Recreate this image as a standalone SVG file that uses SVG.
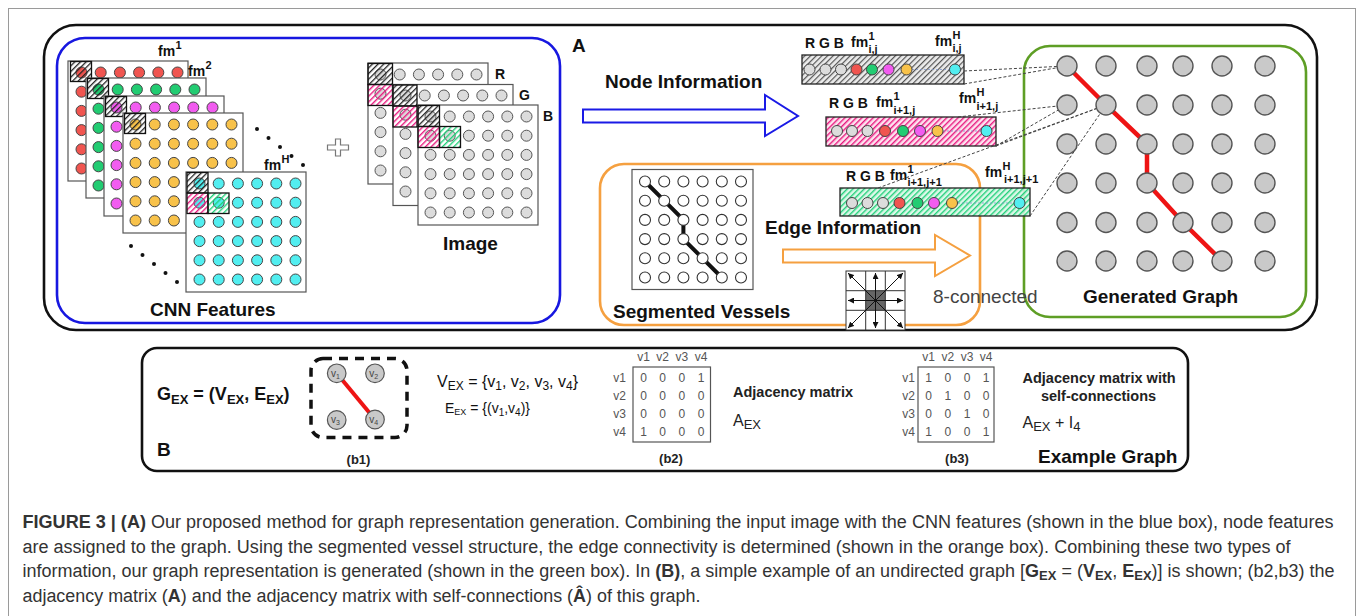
<svg xmlns="http://www.w3.org/2000/svg" width="1360" height="616" viewBox="0 0 1360 616">
  <style>
    text { font-family: "Liberation Sans", Arial, sans-serif; }
    .title { font-size: 19px; font-weight: bold; fill: #111; }
    .fm { font-size: 14px; font-weight: bold; fill: #111; }
    .sup { font-size: 11px; font-weight: bold; fill: #111; }
    .mat { font-size: 12px; fill: #555; }
    .cap { font-size: 18px; fill: #333; }
    .map { fill: #fff; stroke: #555; stroke-width: 1.2; }
    .hk { fill: url(#hatchK); stroke: #111; stroke-width: 1.3; }
    .hm { fill: url(#hatchM); stroke: #111; stroke-width: 1.3; }
    .hg { fill: url(#hatchG); stroke: #111; stroke-width: 1.3; }
    .node { fill: #c9c9c9; stroke: #555; stroke-width: 1.4; }
    .dash { stroke: #444; stroke-width: 1; stroke-dasharray: 3 2; fill: none; }
    .dots { stroke: #7f95c8; stroke-width: 0.8; stroke-dasharray: 2 2; fill: none; }
  </style>
  <defs>
    <pattern id="hatchK" width="4" height="4" patternUnits="userSpaceOnUse" patternTransform="rotate(45)">
      <rect width="1.3" height="4" fill="#222"/>
    </pattern>
    <pattern id="hatchM" width="4" height="4" patternUnits="userSpaceOnUse" patternTransform="rotate(45)">
      <rect width="1.4" height="4" fill="#e8197f"/>
    </pattern>
    <pattern id="hatchG" width="4" height="4" patternUnits="userSpaceOnUse" patternTransform="rotate(45)">
      <rect width="1.4" height="4" fill="#22d07a"/>
    </pattern>
    <pattern id="hatchBar" width="4" height="4" patternUnits="userSpaceOnUse" patternTransform="rotate(45)">
      <rect width="1.2" height="4" fill="#555"/>
    </pattern>
    <marker id="ah" viewBox="0 0 6 6" refX="6" refY="3" markerWidth="6" markerHeight="6" orient="auto">
      <path d="M0,0 L6,3 L0,6 z" fill="#111"/>
    </marker>
    <!-- 6x6 grid of feature-map dots, pitch 19.2 -->
    <g id="g6">
      <circle cx="0" cy="0" r="5.5"/><circle cx="19.2" cy="0" r="5.5"/><circle cx="38.4" cy="0" r="5.5"/><circle cx="57.6" cy="0" r="5.5"/><circle cx="76.8" cy="0" r="5.5"/><circle cx="96" cy="0" r="5.5"/>
      <circle cx="0" cy="19.2" r="5.5"/><circle cx="19.2" cy="19.2" r="5.5"/><circle cx="38.4" cy="19.2" r="5.5"/><circle cx="57.6" cy="19.2" r="5.5"/><circle cx="76.8" cy="19.2" r="5.5"/><circle cx="96" cy="19.2" r="5.5"/>
      <circle cx="0" cy="38.4" r="5.5"/><circle cx="19.2" cy="38.4" r="5.5"/><circle cx="38.4" cy="38.4" r="5.5"/><circle cx="57.6" cy="38.4" r="5.5"/><circle cx="76.8" cy="38.4" r="5.5"/><circle cx="96" cy="38.4" r="5.5"/>
      <circle cx="0" cy="57.6" r="5.5"/><circle cx="19.2" cy="57.6" r="5.5"/><circle cx="38.4" cy="57.6" r="5.5"/><circle cx="57.6" cy="57.6" r="5.5"/><circle cx="76.8" cy="57.6" r="5.5"/><circle cx="96" cy="57.6" r="5.5"/>
      <circle cx="0" cy="76.8" r="5.5"/><circle cx="19.2" cy="76.8" r="5.5"/><circle cx="38.4" cy="76.8" r="5.5"/><circle cx="57.6" cy="76.8" r="5.5"/><circle cx="76.8" cy="76.8" r="5.5"/><circle cx="96" cy="76.8" r="5.5"/>
      <circle cx="0" cy="96" r="5.5"/><circle cx="19.2" cy="96" r="5.5"/><circle cx="38.4" cy="96" r="5.5"/><circle cx="57.6" cy="96" r="5.5"/><circle cx="76.8" cy="96" r="5.5"/><circle cx="96" cy="96" r="5.5"/>
    </g>
  </defs>

  <rect width="1360" height="616" fill="#fff"/>
  <!-- page frame -->
  <rect x="8.5" y="8.5" width="1347" height="640" fill="none" stroke="#9a9a9a" stroke-width="1"/>

  <!-- panel A frame -->
  <g id="panelA">
    <rect x="44" y="25" width="1273" height="305" rx="32" fill="none" stroke="#111" stroke-width="2.6"/>
    <text x="572" y="52" class="title">A</text>
  </g>

  <!-- CNN features (blue box) -->
  <g id="cnn-features">
    <rect x="57" y="38" width="503" height="285" rx="28" fill="none" stroke="#1717e0" stroke-width="2.6"/>
    <g id="fm1">
      <rect class="map" x="68" y="61" width="120" height="120"/>
      <use href="#g6" x="81.5" y="72.5" fill="#f05550" stroke="#444" stroke-width="1"/>
      <rect class="hk" x="70.5" y="61.5" width="21" height="20"/>
    </g>
    <g id="fm2">
      <rect class="map" x="86" y="78" width="120" height="120"/>
      <use href="#g6" x="98.5" y="89.5" fill="#22cc72" stroke="#444" stroke-width="1"/>
      <rect class="hk" x="87.5" y="78.5" width="21" height="20"/>
    </g>
    <g id="fm3">
      <rect class="map" x="104" y="96" width="120" height="120"/>
      <use href="#g6" x="116.5" y="107.5" fill="#f25cf0" stroke="#444" stroke-width="1"/>
      <rect class="hk" x="105.5" y="96.5" width="21" height="20"/>
    </g>
    <g id="fm4">
      <rect class="map" x="123" y="113" width="120" height="120"/>
      <use href="#g6" x="135.5" y="124.5" fill="#f8c24a" stroke="#444" stroke-width="1"/>
      <rect class="hk" x="124.5" y="113.5" width="21" height="20"/>
    </g>
    <g id="fmH">
      <rect class="map" x="186" y="172" width="120" height="120"/>
      <use href="#g6" x="199.5" y="183.5" fill="#52eef0" stroke="#444" stroke-width="1"/>
      <rect class="hk" x="187" y="172.5" width="21" height="20.5"/>
      <rect class="hm" x="187" y="193" width="21" height="20.5"/>
      <rect class="hg" x="208" y="193" width="21" height="20.5"/>
    </g>
    <text x="158" y="56" class="fm">fm</text><text x="175.5" y="49" class="sup">1</text>
    <text x="188" y="76" class="fm">fm</text><text x="205.5" y="69" class="sup">2</text>
    <text x="264" y="170" class="fm">fm</text><text x="281.5" y="163" class="sup">H</text>
    <g fill="#111">
      <circle cx="257" cy="129" r="2"/><circle cx="268.5" cy="138" r="2"/><circle cx="280" cy="147" r="2"/><circle cx="291.5" cy="156" r="2"/><circle cx="303" cy="165" r="2"/>
      <circle cx="131" cy="246" r="2"/><circle cx="142.5" cy="255" r="2"/><circle cx="154" cy="264" r="2"/><circle cx="165.5" cy="273" r="2"/><circle cx="177" cy="282" r="2"/>
    </g>
    <text x="150" y="316" class="title">CNN Features</text>
    <!-- plus sign -->
    <path d="M335.5,139 h5 v6 h8 v5 h-8 v6 h-5 v-6 h-8 v-5 h8 z" fill="#fff" stroke="#777" stroke-width="1.2"/>
  </g>

  <!-- input image planes -->
  <g id="image">
    <g id="planeR">
      <rect class="map" x="368" y="63" width="120" height="121"/>
      <use href="#g6" x="380.5" y="74.5" fill="#dcdcdc" stroke="#555" stroke-width="1"/>
      <rect class="hk" x="368" y="63.5" width="24.5" height="21"/>
      <rect class="hm" x="368" y="84.5" width="24.5" height="21"/>
    </g>
    <g id="planeG">
      <rect class="map" x="393" y="84.5" width="120" height="121"/>
      <use href="#g6" x="405.5" y="95.5" fill="#dcdcdc" stroke="#555" stroke-width="1"/>
      <rect class="hk" x="393" y="85" width="24" height="21"/>
      <rect class="hm" x="393" y="106" width="24" height="21"/>
    </g>
    <g id="planeB">
      <rect class="map" x="418" y="105" width="120" height="120"/>
      <use href="#g6" x="430.5" y="116.5" fill="#dcdcdc" stroke="#555" stroke-width="1"/>
      <rect class="hk" x="418" y="105.5" width="21.5" height="21"/>
      <rect class="hm" x="418" y="126.5" width="21.5" height="21"/>
      <rect class="hg" x="439.5" y="126.5" width="21" height="21"/>
    </g>
    <text x="495" y="79" class="fm">R</text>
    <text x="519" y="100" class="fm">G</text>
    <text x="543" y="121" class="fm">B</text>
    <text x="443" y="250" class="title">Image</text>
  </g>

  <!-- node information arrow -->
  <g id="node-info">
    <polygon points="583,109.5 765,109.5 765,95 798,116 765,136 765,122.5 583,122.5" fill="#fff" stroke="#1a1ae6" stroke-width="2"/>
    <text x="605" y="88" class="title">Node Information</text>
  </g>

  <!-- segmented vessels and edge information (orange box) -->
  <g id="edge-info">
    <rect x="600" y="164" width="380" height="161" rx="24" fill="none" stroke="#f5a040" stroke-width="2.6"/>
    <rect x="632" y="169.5" width="121" height="120" fill="#fff" stroke="#555" stroke-width="1.2"/>
    <polyline points="645,181.5 664.2,200.7 683.4,219.9 683.4,239.1 702.6,258.3 721.8,277.5" fill="none" stroke="#111" stroke-width="4"/>
    <use href="#g6" x="645" y="181.5" fill="#fff" stroke="#333" stroke-width="1.1"/>
    <text x="613" y="318" class="title">Segmented Vessels</text>
    <text x="765" y="234" class="title">Edge Information</text>
    <polygon points="783,249.5 935,249.5 935,235 970,255.5 935,276 935,262.5 783,262.5" fill="#fff" stroke="#f5a040" stroke-width="2"/>
    <!-- 8-neighbourhood icon -->
    <g id="neighbourhood">
      <rect x="846" y="271" width="59" height="59" fill="#fff" stroke="#333" stroke-width="1"/>
      <rect x="865.7" y="290.7" width="19.7" height="19.7" fill="#666"/>
      <path d="M865.7,271 V330 M885.3,271 V330 M846,290.7 H905 M846,310.3 H905" stroke="#333" stroke-width="1"/>
      <g stroke="#111" stroke-width="1" marker-end="url(#ah)">
        <line x1="875.5" y1="300.5" x2="848" y2="273"/>
        <line x1="875.5" y1="300.5" x2="875.5" y2="273"/>
        <line x1="875.5" y1="300.5" x2="903" y2="273"/>
        <line x1="875.5" y1="300.5" x2="848" y2="300.5"/>
        <line x1="875.5" y1="300.5" x2="903" y2="300.5"/>
        <line x1="875.5" y1="300.5" x2="848" y2="328"/>
        <line x1="875.5" y1="300.5" x2="875.5" y2="328"/>
        <line x1="875.5" y1="300.5" x2="903" y2="328"/>
      </g>
    </g>
  </g>

  <!-- generated graph (green box) -->
  <g id="graph">
    <rect x="1024" y="46" width="282" height="271" rx="26" fill="none" stroke="#5e9e25" stroke-width="2.6"/>
    <text x="1083" y="303" class="title">Generated Graph</text>
  </g>

  <!-- node feature vectors -->
  <g id="vec-ij">
    <rect x="802" y="55" width="162" height="29" fill="#ececec"/>
    <rect x="802" y="55" width="162" height="29" fill="url(#hatchBar)" stroke="#222" stroke-width="1.3"/>
    <line class="dots" x1="912" y1="69.5" x2="949" y2="69.5"/>
    <g stroke="#444" stroke-width="1">
      <circle cx="809.5" cy="69.5" r="5.5" fill="#dcdcdc"/><circle cx="825.5" cy="69.5" r="5.5" fill="#dcdcdc"/><circle cx="841" cy="69.5" r="5.5" fill="#dcdcdc"/>
      <circle cx="856.5" cy="69.5" r="5.5" fill="#f05550"/><circle cx="872" cy="69.5" r="5.5" fill="#22cc72"/><circle cx="888.5" cy="69.5" r="5.5" fill="#f25cf0"/>
      <circle cx="906.5" cy="69.5" r="5.5" fill="#f8c24a"/><circle cx="955" cy="69.5" r="5.5" fill="#52eef0"/>
    </g>
    <text x="805" y="48" class="fm">R G B</text>
    <text x="851" y="47" class="fm">fm</text><text x="868.5" y="40" class="sup">1</text><text x="868.5" y="53" class="sup">i,j</text>
    <text x="935" y="46" class="fm">fm</text><text x="952.5" y="39" class="sup">H</text><text x="952.5" y="52" class="sup">i,j</text>
  </g>
  <g id="vec-i1j">
    <rect x="826" y="117" width="170" height="29" fill="#fde3ef"/>
    <rect x="826" y="117" width="170" height="29" fill="url(#hatchM)" stroke="#222" stroke-width="1.3"/>
    <line class="dots" x1="943" y1="131" x2="981" y2="131"/>
    <g stroke="#444" stroke-width="1">
      <circle cx="837" cy="131" r="5.5" fill="#dcdcdc"/><circle cx="852" cy="131" r="5.5" fill="#dcdcdc"/><circle cx="867.5" cy="131" r="5.5" fill="#dcdcdc"/>
      <circle cx="885" cy="131" r="5.5" fill="#f05550"/><circle cx="903" cy="131" r="5.5" fill="#22cc72"/><circle cx="920" cy="131" r="5.5" fill="#f25cf0"/>
      <circle cx="937.5" cy="131" r="5.5" fill="#f8c24a"/><circle cx="986.5" cy="131" r="5.5" fill="#52eef0"/>
    </g>
    <text x="829" y="108" class="fm">R G B</text>
    <text x="876" y="107" class="fm">fm</text><text x="893.5" y="100" class="sup">1</text><text x="893.5" y="114" class="sup">i+1,j</text>
    <text x="959" y="103" class="fm">fm</text><text x="976.5" y="96" class="sup">H</text><text x="976.5" y="110" class="sup">i+1,j</text>
  </g>
  <g id="vec-i1j1">
    <rect x="840" y="188" width="190" height="28" fill="#d9f7e7" fill-opacity="0.9"/>
    <rect x="840" y="188" width="190" height="28" fill="url(#hatchG)" stroke="#222" stroke-width="1.3"/>
    <line class="dots" x1="958" y1="203" x2="1013" y2="203"/>
    <g stroke="#444" stroke-width="1">
      <circle cx="852" cy="203" r="5.5" fill="#dcdcdc"/><circle cx="867.5" cy="203" r="5.5" fill="#dcdcdc"/><circle cx="883" cy="203" r="5.5" fill="#dcdcdc"/>
      <circle cx="899.5" cy="203" r="5.5" fill="#f05550"/><circle cx="917.5" cy="203" r="5.5" fill="#22cc72"/><circle cx="934" cy="203" r="5.5" fill="#f25cf0"/>
      <circle cx="952" cy="203" r="5.5" fill="#f8c24a"/><circle cx="1019.5" cy="203" r="5.5" fill="#52eef0"/>
    </g>
    <text x="846" y="181" class="fm">R G B</text>
    <text x="890" y="180" class="fm">fm</text><text x="907.5" y="173" class="sup">1</text><text x="907.5" y="186" class="sup">i+1,j+1</text>
    <text x="985" y="177" class="fm">fm</text><text x="1002.5" y="170" class="sup">H</text><text x="1004" y="183" class="sup">i+1,j+1</text>
  </g>
  <text x="933" y="303" font-size="19" fill="#444">8-connected</text>

  <!-- connectors: feature projections and graph edges -->
  <g id="connectors">
    <line class="dash" x1="964" y1="71" x2="1067" y2="66"/>
    <line class="dash" x1="964" y1="84" x2="1067" y2="66"/>
    <line class="dash" x1="958" y1="117" x2="1067" y2="105"/>
    <line class="dash" x1="996" y1="146" x2="1067" y2="105"/>
    <line class="dash" x1="996" y1="146" x2="1106" y2="105"/>
    <line class="dash" x1="878" y1="188" x2="1106" y2="105"/>
    <line class="dash" x1="1030" y1="216" x2="1106" y2="105"/>
    <polyline points="1067,66 1106,105 1147,144 1147,183 1183,222.5 1222,261" fill="none" stroke="#ee1414" stroke-width="4.5"/>
  </g>

  <!-- graph nodes -->
  <g id="graph-nodes">
    <circle class="node" cx="1067" cy="66" r="10"/><circle class="node" cx="1106" cy="66" r="10"/><circle class="node" cx="1147" cy="66" r="10"/><circle class="node" cx="1183" cy="66" r="10"/><circle class="node" cx="1222" cy="66" r="10"/><circle class="node" cx="1265" cy="66" r="10"/>
    <circle class="node" cx="1067" cy="105" r="10"/><circle class="node" cx="1106" cy="105" r="10"/><circle class="node" cx="1147" cy="105" r="10"/><circle class="node" cx="1183" cy="105" r="10"/><circle class="node" cx="1222" cy="105" r="10"/><circle class="node" cx="1265" cy="105" r="10"/>
    <circle class="node" cx="1067" cy="144" r="10"/><circle class="node" cx="1106" cy="144" r="10"/><circle class="node" cx="1147" cy="144" r="10"/><circle class="node" cx="1183" cy="144" r="10"/><circle class="node" cx="1222" cy="144" r="10"/><circle class="node" cx="1265" cy="144" r="10"/>
    <circle class="node" cx="1067" cy="183" r="10"/><circle class="node" cx="1106" cy="183" r="10"/><circle class="node" cx="1147" cy="183" r="10"/><circle class="node" cx="1183" cy="183" r="10"/><circle class="node" cx="1222" cy="183" r="10"/><circle class="node" cx="1265" cy="183" r="10"/>
    <circle class="node" cx="1067" cy="222.5" r="10"/><circle class="node" cx="1106" cy="222.5" r="10"/><circle class="node" cx="1147" cy="222.5" r="10"/><circle class="node" cx="1183" cy="222.5" r="10"/><circle class="node" cx="1222" cy="222.5" r="10"/><circle class="node" cx="1265" cy="222.5" r="10"/>
    <circle class="node" cx="1067" cy="261" r="10"/><circle class="node" cx="1106" cy="261" r="10"/><circle class="node" cx="1147" cy="261" r="10"/><circle class="node" cx="1183" cy="261" r="10"/><circle class="node" cx="1222" cy="261" r="10"/><circle class="node" cx="1265" cy="261" r="10"/>
  </g>

  <!-- panel B: example graph -->
  <g id="panelB">
    <rect x="142" y="348" width="1046" height="123" rx="15" fill="none" stroke="#111" stroke-width="2.6"/>
    <text x="157" y="456" class="title">B</text>
    <text x="157" y="400" font-size="18" font-weight="bold" fill="#111">G<tspan font-size="13" dy="4">EX</tspan><tspan dy="-4"> = (V</tspan><tspan font-size="13" dy="4">EX</tspan><tspan dy="-4">, E</tspan><tspan font-size="13" dy="4">EX</tspan><tspan dy="-4">)</tspan></text>
    <text x="1038" y="463" class="title">Example Graph</text>
  </g>
  <g id="b1">
    <rect x="311" y="358.5" width="96" height="79" rx="12" fill="none" stroke="#111" stroke-width="3.5" stroke-dasharray="9 7"/>
    <line x1="336.7" y1="373.3" x2="375" y2="419.5" stroke="#ee1414" stroke-width="4"/>
    <g stroke="#555" stroke-width="1.2" fill="#c9c9c9">
      <circle cx="336.7" cy="373.3" r="9.3"/><circle cx="375" cy="373.3" r="9.3"/>
      <circle cx="336.7" cy="420" r="9.3"/><circle cx="375" cy="419.5" r="9.3"/>
    </g>
    <g font-size="10" fill="#444" text-anchor="middle">
      <text x="335.5" y="376.5">v<tspan font-size="7" dy="2">1</tspan></text>
      <text x="373.8" y="376.5">v<tspan font-size="7" dy="2">2</tspan></text>
      <text x="335.5" y="423.2">v<tspan font-size="7" dy="2">3</tspan></text>
      <text x="373.8" y="422.7">v<tspan font-size="7" dy="2">4</tspan></text>
    </g>
    <text x="358.5" y="464" font-size="13" font-weight="bold" fill="#222" text-anchor="middle">(b1)</text>
    <text x="437" y="387" font-size="16" fill="#111">V<tspan font-size="12" dy="3">EX</tspan><tspan dy="-3"> = {v</tspan><tspan font-size="12" dy="3">1</tspan><tspan dy="-3">, v</tspan><tspan font-size="12" dy="3">2</tspan><tspan dy="-3">, v</tspan><tspan font-size="12" dy="3">3</tspan><tspan dy="-3">, v</tspan><tspan font-size="12" dy="3">4</tspan><tspan dy="-3">}</tspan></text>
    <text x="445" y="413" font-size="14" fill="#111">E<tspan font-size="9" dy="2">EX</tspan><tspan dy="-2"> = {(v</tspan><tspan font-size="10" dy="3">1</tspan><tspan dy="-3">,v</tspan><tspan font-size="10" dy="3">4</tspan><tspan dy="-3">)}</tspan></text>
  </g>
  <g id="b2">
    <g class="mat" text-anchor="middle">
      <text x="643.6" y="361">v1</text><text x="662.7" y="361">v2</text><text x="681.8" y="361">v3</text><text x="701" y="361">v4</text>
      <text x="619.5" y="382">v1</text><text x="619.5" y="400">v2</text><text x="619.5" y="418">v3</text><text x="619.5" y="436">v4</text>
      <text x="643.6" y="382">0</text><text x="662.7" y="382">0</text><text x="681.8" y="382">0</text><text x="701" y="382">1</text>
      <text x="643.6" y="400">0</text><text x="662.7" y="400">0</text><text x="681.8" y="400">0</text><text x="701" y="400">0</text>
      <text x="643.6" y="418">0</text><text x="662.7" y="418">0</text><text x="681.8" y="418">0</text><text x="701" y="418">0</text>
      <text x="643.6" y="436">1</text><text x="662.7" y="436">0</text><text x="681.8" y="436">0</text><text x="701" y="436">0</text>
    </g>
    <rect x="633" y="367" width="77.5" height="75" fill="none" stroke="#555" stroke-width="1.2"/>
    <text x="671" y="463" font-size="13" font-weight="bold" fill="#222" text-anchor="middle">(b2)</text>
    <text x="733" y="397" font-size="14.5" font-weight="bold" fill="#222">Adjacency matrix</text>
    <text x="733" y="426" font-size="16" fill="#222">A<tspan font-size="13" dy="3">EX</tspan></text>
  </g>
  <g id="b3">
    <g class="mat" text-anchor="middle">
      <text x="928.7" y="361">v1</text><text x="947.8" y="361">v2</text><text x="967" y="361">v3</text><text x="986" y="361">v4</text>
      <text x="908.5" y="382">v1</text><text x="908.5" y="400">v2</text><text x="908.5" y="418">v3</text><text x="908.5" y="436">v4</text>
      <text x="928.7" y="382">1</text><text x="947.8" y="382">0</text><text x="967" y="382">0</text><text x="986" y="382">1</text>
      <text x="928.7" y="400">0</text><text x="947.8" y="400">1</text><text x="967" y="400">0</text><text x="986" y="400">0</text>
      <text x="928.7" y="418">0</text><text x="947.8" y="418">0</text><text x="967" y="418">1</text><text x="986" y="418">0</text>
      <text x="928.7" y="436">1</text><text x="947.8" y="436">0</text><text x="967" y="436">0</text><text x="986" y="436">1</text>
    </g>
    <rect x="918" y="367" width="76" height="75" fill="none" stroke="#555" stroke-width="1.2"/>
    <text x="957" y="463" font-size="13" font-weight="bold" fill="#222" text-anchor="middle">(b3)</text>
    <text x="1022.5" y="383" font-size="14.5" font-weight="bold" fill="#222">Adjacency matrix with</text>
    <text x="1098.5" y="401" font-size="14.5" font-weight="bold" fill="#222" text-anchor="middle">self-connections</text>
    <text x="1022.5" y="428" font-size="16" fill="#222">A<tspan font-size="13" dy="3">EX</tspan><tspan dy="-3"> + I</tspan><tspan font-size="13" dy="3">4</tspan></text>
  </g>

  <!-- caption -->
  <g id="caption" class="cap">
    <text x="22.5" y="528" class="cap" textLength="1311" lengthAdjust="spacingAndGlyphs"><tspan font-weight="bold">FIGURE 3 | (A)</tspan> Our proposed method for graph representation generation. Combining the input image with the CNN features (shown in the blue box), node features</text>
    <text x="22.5" y="552.5" class="cap" textLength="1268" lengthAdjust="spacingAndGlyphs">are assigned to the graph. Using the segmented vessel structure, the edge connectivity is determined (shown in the orange box). Combining these two types of</text>
    <text x="22.5" y="577" class="cap" textLength="1312" lengthAdjust="spacingAndGlyphs">information, our graph representation is generated (shown in the green box). In <tspan font-weight="bold">(B)</tspan>, a simple example of an undirected graph [<tspan font-weight="bold">G</tspan><tspan font-weight="bold" font-size="13" dy="3">EX</tspan><tspan dy="-3"> = (</tspan><tspan font-weight="bold">V</tspan><tspan font-weight="bold" font-size="13" dy="3">EX</tspan><tspan dy="-3">, </tspan><tspan font-weight="bold">E</tspan><tspan font-weight="bold" font-size="13" dy="3">EX</tspan><tspan dy="-3">)] is shown; (b2,b3) the</tspan></text>
    <text x="22.5" y="601.5" class="cap" textLength="678" lengthAdjust="spacingAndGlyphs">adjacency matrix (<tspan font-weight="bold">A</tspan>) and the adjacency matrix with self-connections (<tspan font-weight="bold">Â</tspan>) of this graph.</text>
  </g>
</svg>
